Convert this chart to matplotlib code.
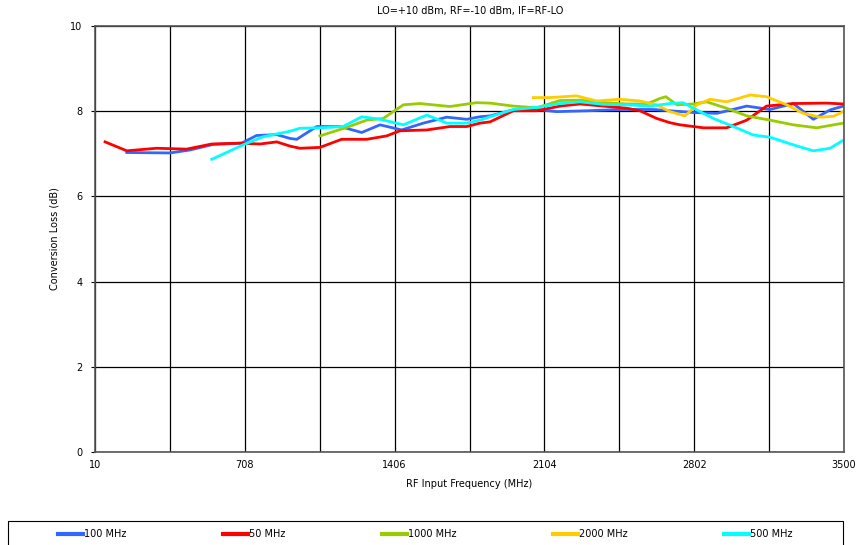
import numpy as np
import matplotlib.pyplot as plt
from matplotlib.patches import Rectangle
from matplotlib.ticker import FixedLocator, MultipleLocator

# Conversion loss (dB) vs RF input frequency (MHz), one series per IF
f_50 = [57, 158, 297, 437, 554, 686, 779, 857, 919, 965, 1058, 1159, 1276, 1369, 1431, 1556,
        1664, 1742, 1804, 1851, 1959, 2068, 2177, 2270, 2379, 2488, 2549, 2627, 2689, 2736,
        2845, 2953, 3047, 3139, 3264, 3419, 3497]
cl_50 = [7.28, 7.07, 7.13, 7.11, 7.23, 7.25, 7.23, 7.28, 7.18, 7.13, 7.15, 7.34, 7.34, 7.42, 7.54, 7.56,
         7.64, 7.64, 7.72, 7.75, 8.01, 8.01, 8.12, 8.17, 8.12, 8.07, 8.01, 7.83, 7.73, 7.68,
         7.61, 7.61, 7.79, 8.12, 8.18, 8.19, 8.17]

f_100 = [158, 360, 453, 560, 693, 763, 857, 919, 950, 1043, 1152, 1253, 1338, 1439, 1540, 1649,
         1742, 1804, 1851, 1959, 2068, 2161, 2301, 2456, 2612, 2689, 2798, 2907, 3047, 3155,
         3264, 3357, 3435, 3497]
cl_100 = [7.03, 7.02, 7.09, 7.22, 7.25, 7.43, 7.45, 7.36, 7.34, 7.64, 7.64, 7.50, 7.68, 7.56, 7.72, 7.86,
          7.81, 7.87, 7.89, 8.03, 8.04, 7.99, 8.01, 8.04, 8.04, 8.01, 7.97, 7.95, 8.12, 8.04,
          8.18, 7.81, 8.03, 8.12]

f_500 = [554, 700, 793, 919, 965, 1058, 1166, 1253, 1338, 1447, 1556, 1649, 1742, 1804, 1851,
         1959, 2068, 2177, 2270, 2379, 2488, 2596, 2689, 2750, 2798, 2891, 2985, 3078, 3155,
         3264, 3357, 3435, 3497]
cl_500 = [6.87, 7.21, 7.40, 7.53, 7.60, 7.61, 7.64, 7.87, 7.81, 7.68, 7.91, 7.72, 7.72, 7.79, 7.87,
          8.04, 8.09, 8.18, 8.22, 8.16, 8.15, 8.12, 8.18, 8.20, 8.07, 7.83, 7.64, 7.44, 7.39,
          7.21, 7.07, 7.13, 7.32]

f_1000 = [1058, 1183, 1276, 1353, 1447, 1524, 1664, 1788, 1851, 1959, 2068, 2177, 2270, 2379,
          2488, 2581, 2643, 2670, 2721, 2798, 2860, 2953, 3047, 3155, 3264, 3373, 3497]
cl_1000 = [7.42, 7.62, 7.79, 7.83, 8.15, 8.18, 8.11, 8.20, 8.19, 8.12, 8.08, 8.25, 8.26, 8.20,
           8.17, 8.17, 8.30, 8.34, 8.15, 8.17, 8.22, 8.07, 7.89, 7.79, 7.68, 7.61, 7.72]

f_2000 = [2052, 2130, 2254, 2347, 2456, 2549, 2627, 2689, 2759, 2814, 2876, 2953, 3062, 3139,
          3233, 3310, 3388, 3450, 3497]
cl_2000 = [8.32, 8.32, 8.36, 8.24, 8.28, 8.24, 8.15, 7.99, 7.89, 8.15, 8.28, 8.22, 8.38, 8.34,
           8.15, 7.95, 7.86, 7.88, 7.99]

xtick_vals = [10, 708, 1406, 2104, 2802, 3500]
xgrid_minor = [359, 1057, 1755, 2453, 3151]

fig = plt.figure(figsize=(8.67, 5.45), dpi=100)
ax = fig.add_axes([95/867, 1 - 452/545, 749/867, 426/545])

ax.plot(f_100, cl_100, color='#3366FF', lw=2, label='100 MHz')
ax.plot(f_50, cl_50, color='#FF0000', lw=2, label='50 MHz')
ax.plot(f_1000, cl_1000, color='#99CC00', lw=2, label='1000 MHz')
ax.plot(f_2000, cl_2000, color='#FFCC00', lw=2, label='2000 MHz')
ax.plot(f_500, cl_500, color='#00FFFF', lw=2, label='500 MHz')

ax.set_xlim(10, 3500)
ax.set_ylim(0, 10)
ax.set_xticks(xtick_vals)
ax.xaxis.set_minor_locator(FixedLocator(xgrid_minor))
ax.yaxis.set_major_locator(MultipleLocator(2))
ax.set_axisbelow(True)
ax.grid(True, which='both', axis='x', color='black', lw=0.9)
ax.grid(True, which='major', axis='y', color='black', lw=0.9)
ax.tick_params(axis='both', which='both', length=0, labelsize=7, pad=6)
ax.tick_params(axis='y', length=3, direction='out')
for s in ax.spines.values():
    s.set_color('#555555')
    s.set_linewidth(1.2)

ax.set_xlabel('RF Input Frequency (MHz)', fontsize=7, labelpad=6)
ax.set_ylabel('Conversion Loss (dB)', fontsize=7, labelpad=8)
fig.text(470/867, 1 - 11/545, 'LO=+10 dBm, RF=-10 dBm, IF=RF-LO', fontsize=7,
         ha='center', va='center')

# legend box runs off the bottom edge like in the original
fig.patches.append(Rectangle((8/867, -0.01), 835/867, 1 - 521/545 + 0.01,
                             transform=fig.transFigure, fill=False,
                             edgecolor='black', lw=0.8))
leg = fig.legend(loc='center', bbox_to_anchor=(425.5/867, 1 - 534/545),
                 ncol=5, fontsize=7, frameon=False,
                 handlelength=2.6, handletextpad=0.1, columnspacing=9.9)
for h in leg.get_lines():
    h.set_linewidth(3)

fig.savefig('out.png', dpi=100)
